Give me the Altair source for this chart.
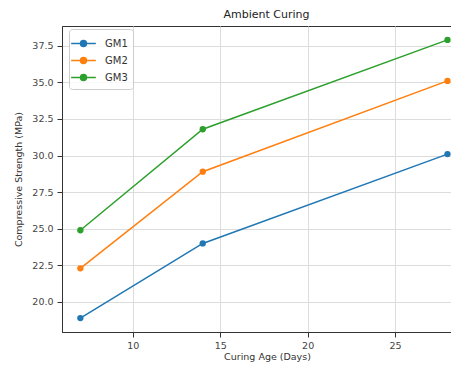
import altair as alt
import pandas as pd

ages = [7, 14, 28]
gm1 = [18.9, 24.0, 30.1]
gm2 = [22.3, 28.9, 35.1]
gm3 = [24.9, 31.8, 37.9]
series = ["GM1", "GM2", "GM3"]
colors = ["#1f77b4", "#ff7f0e", "#2ca02c"]

rows = []
for name, vals in zip(series, [gm1, gm2, gm3]):
    for a, v in zip(ages, vals):
        rows.append({"age": a, "strength": v, "series": name})
df = pd.DataFrame(rows)

font = "DejaVu Sans"
x = alt.X("age:Q", title="Curing Age (Days)",
          scale=alt.Scale(domain=[5.95, 28.2], nice=False, zero=False),
          axis=alt.Axis(values=[10, 15, 20, 25], format="d", labelPadding=3,
                        titleX=205, titleY=19, titleBaseline="top"))
y = alt.Y("strength:Q", title="Compressive Strength (MPa)",
          scale=alt.Scale(domain=[17.95, 38.85], nice=False, zero=False),
          axis=alt.Axis(values=[20, 22.5, 25, 27.5, 30, 32.5, 35, 37.5], format=".1f",
                        labelPadding=4, titleX=-39, titleY=153))
color = alt.Color("series:N", scale=alt.Scale(domain=series, range=colors),
                  legend=alt.Legend(title=None, orient="none", legendX=7, legendY=3,
                                    symbolType="M-1.45,0H1.45M-0.35,0A0.35,0.35 0 1,0 0.35,0A0.35,0.35 0 1,0 -0.35,0Z",
                                    symbolSize=289, symbolStrokeWidth=1.5,
                                    labelFontSize=10, labelFont=font, labelColor="#333",
                                    labelOffset=12,
                                    fillColor="rgba(255,255,255,0.8)", strokeColor="#ccc",
                                    cornerRadius=3, padding=5, rowPadding=1))

base = alt.Chart(df).encode(x=x, y=y, color=color)
lines = base.mark_line(strokeWidth=1.5)
points = base.mark_circle(size=40, opacity=1)

chart = (lines + points).properties(
    width=389, height=306,
    title=alt.Title("Ambient Curing", fontSize=11, font=font, fontWeight="normal",
                    color="#222", offset=6, dx=10),
    autosize=alt.AutoSizeParams(type="none"),
    padding={"left": 54, "top": 18, "right": 0, "bottom": 31},
).configure_axis(
    labelFont=font, labelFontSize=9.5, labelColor="#444", titleFont=font, titleFontSize=9.5,
    titleFontWeight="normal", titleColor="#333", gridColor="#dcdcdc", gridWidth=1,
    domainColor="#333", tickColor="#333", tickSize=5,
).configure_view(stroke="#333")

chart.save("out.html", embed_options={"renderer": "svg", "actions": False})
